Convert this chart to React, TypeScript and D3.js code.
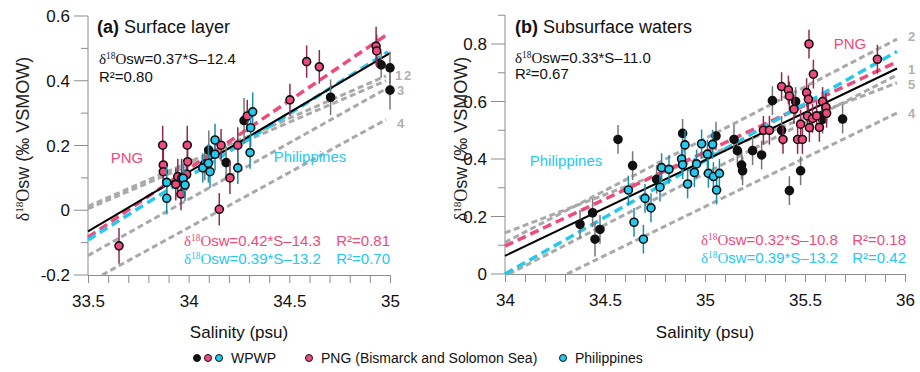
import React, { useRef, useEffect } from 'react';
import * as d3 from 'd3';

const SANS = '"Liberation Sans", Arial, sans-serif';
const SERIF = '"Liberation Serif", "Times New Roman", serif';

const PINK = '#ef4a7c';
const CYAN = '#25c8ef';
const PINK_ERR = '#8c2b52';
const CYAN_ERR = '#1d8eaa';
const GRAY = '#a9a9a9';

// ---- panel (a) surface layer ----
const aBlackS = [34.08, 34.1, 34.186, 34.275, 34.705, 34.956, 35.0, 35.0];
const aBlackD = [0.143, 0.186, 0.147, 0.277, 0.349, 0.449, 0.44, 0.371];
const aBlackE = [0.05, 0.06, 0.05, 0.07, 0.055, 0.04, 0.05, 0.06];

const aPngS = [33.654, 33.871, 33.874, 33.874, 33.936, 33.946, 33.962, 33.965, 33.99, 33.993, 33.995,
  34.152, 34.161, 34.205, 34.244, 34.291, 34.503, 34.586, 34.649, 34.931, 34.934];
const aPngD = [-0.11, 0.201, 0.14, 0.119, 0.08, 0.104, 0.05, 0.099, 0.111, 0.201, 0.15,
  0.003, 0.201, 0.1, 0.201, 0.291, 0.341, 0.459, 0.443, 0.507, 0.492];
const aPngE = [0.055, 0.06, 0.05, 0.05, 0.05, 0.055, 0.05, 0.06, 0.05, 0.06, 0.05,
  0.05, 0.05, 0.05, 0.055, 0.05, 0.05, 0.05, 0.052, 0.06, 0.05];

const aPhilS = [33.891, 33.891, 33.973, 33.982, 34.07, 34.098, 34.106, 34.131, 34.131, 34.244, 34.305, 34.308, 34.318];
const aPhilD = [0.086, 0.037, 0.099, 0.078, 0.131, 0.145, 0.119, 0.217, 0.173, 0.131, 0.178, 0.255, 0.304];
const aPhilE = [0.05, 0.05, 0.05, 0.05, 0.045, 0.06, 0.05, 0.05, 0.05, 0.05, 0.05, 0.06, 0.06];

// regression fits [slope, intercept, sMin, sMax] : wpwp, png, phil
const aFitBlack = [0.367, -12.36, 33.5, 35.0];
const aFitPng = [0.4216, -14.207, 33.5, 34.98];
const aFitPhil = [0.39, -13.157, 33.5, 34.99];

// gray reference lines
const aGrayLab = ['1', '2', '3', '4'];
const aGrayS0 = [33.5, 33.5, 33.5, 33.57];
const aGrayD0 = [0.012, 0.005, -0.14, -0.2];
const aGrayS1 = [34.98, 34.98, 34.98, 34.98];
const aGrayD1 = [0.415, 0.4, 0.375, 0.28];

// ---- panel (b) subsurface waters ----
const bBlackS = [34.375, 34.438, 34.45, 34.475, 34.565, 34.638, 34.758, 34.888, 35.055, 35.145, 35.162,
  35.183, 35.188, 35.238, 35.283, 35.337, 35.383, 35.422, 35.453, 35.478, 35.583, 35.588, 35.688];
const bBlackD = [0.173, 0.213, 0.121, 0.155, 0.468, 0.377, 0.329, 0.489, 0.48, 0.468, 0.429,
  0.379, 0.359, 0.429, 0.414, 0.603, 0.5, 0.29, 0.6, 0.359, 0.55, 0.538, 0.539];
const bBlackE = [0.05, 0.05, 0.06, 0.05, 0.05, 0.05, 0.05, 0.05, 0.05, 0.05, 0.05,
  0.05, 0.05, 0.05, 0.05, 0.05, 0.05, 0.05, 0.05, 0.05, 0.05, 0.05, 0.05];

const bPngS = [35.292, 35.322, 35.383, 35.39, 35.417, 35.422, 35.445, 35.463, 35.478, 35.487, 35.508, 35.512,
  35.517, 35.52, 35.522, 35.538, 35.542, 35.558, 35.572, 35.588, 35.605, 35.608, 35.862];
const bPngD = [0.5, 0.5, 0.652, 0.468, 0.64, 0.619, 0.573, 0.468, 0.521, 0.468, 0.631, 0.55,
  0.608, 0.8, 0.509, 0.541, 0.695, 0.55, 0.51, 0.6, 0.58, 0.559, 0.747];
const bPngE = [0.05, 0.05, 0.05, 0.05, 0.05, 0.05, 0.05, 0.05, 0.05, 0.05, 0.05, 0.05,
  0.05, 0.05, 0.05, 0.05, 0.05, 0.05, 0.05, 0.05, 0.05, 0.05, 0.05];

const bPhilS = [34.617, 34.645, 34.692, 34.7, 34.73, 34.775, 34.783, 34.82, 34.883, 34.888, 34.9,
  34.913, 34.947, 34.958, 34.983, 35.012, 35.017, 35.038, 35.042, 35.058, 35.072];
const bPhilD = [0.292, 0.18, 0.121, 0.263, 0.23, 0.302, 0.37, 0.364, 0.4, 0.38, 0.449,
  0.313, 0.353, 0.383, 0.453, 0.417, 0.35, 0.451, 0.339, 0.292, 0.35];
const bPhilE = [0.05, 0.05, 0.05, 0.05, 0.05, 0.05, 0.05, 0.05, 0.05, 0.05, 0.05,
  0.05, 0.05, 0.05, 0.05, 0.05, 0.05, 0.05, 0.05, 0.05, 0.05];

const bFitBlack = [0.3325, -11.242, 34, 35.96];
const bFitPng = [0.327, -11.021, 34, 35.96];
const bFitPhil = [0.395, -13.43, 34, 35.96];

const bGrayLab = ['2', '1', '5', '4'];
const bGrayS0 = [34, 34.02, 34, 34.31];
const bGrayD0 = [0.11, 0.0, 0.143, 0.0];
const bGrayS1 = [35.96, 35.96, 35.96, 35.96];
const bGrayD1 = [0.817, 0.692, 0.665, 0.56];

// ticks
const aXTicks = [33.5, 34, 34.5, 35];
const aYTicks = [-0.2, 0, 0.2, 0.4, 0.6];
const bXTicks = [34, 34.5, 35, 35.5, 36];
const bYTicks = [0, 0.2, 0.4, 0.6, 0.8];

const panels = [
  {
    title: 'Surface layer', tag: '(a)',
    xDom: [33.5, 35], xRange: [88, 390], yDom: [-0.2, 0.6], yRange: [275, 16],
    xTicks: aXTicks, yTicks: aYTicks, yTop: 0.6,
    black: [aBlackS, aBlackD, aBlackE], png: [aPngS, aPngD, aPngE], phil: [aPhilS, aPhilD, aPhilE],
    fits: [aFitBlack, aFitPng, aFitPhil],
    gray: [aGrayLab, aGrayS0, aGrayD0, aGrayS1, aGrayD1],
    grayLabPos: [[395, 80], [404, 80], [397, 95], [397, 128]],
    mainEq: ['sw=0.37*S\u201312.4', 'R\u00b2=0.80'], mainEqPos: [99, 64, 82],
    pngEq: ['sw=0.42*S\u201314.3', 'R\u00b2=0.81'], philEq: ['sw=0.39*S\u201313.2', 'R\u00b2=0.70'],
    eqPos: [184, 390, 246, 264],
    pngLab: [127, 163, 'middle'], philLab: [310, 162, 'middle'],
    yLabelX: 29, titleX: 97,
  },
  {
    title: 'Subsurface waters', tag: '(b)',
    xDom: [34, 36], xRange: [505, 905], yDom: [0, 0.9], yRange: [274, 15.25],
    xTicks: bXTicks, yTicks: bYTicks, yTop: 0.9,
    black: [bBlackS, bBlackD, bBlackE], png: [bPngS, bPngD, bPngE], phil: [bPhilS, bPhilD, bPhilE],
    fits: [bFitBlack, bFitPng, bFitPhil],
    gray: [bGrayLab, bGrayS0, bGrayD0, bGrayS1, bGrayD1],
    grayLabPos: [[908, 41], [908, 74], [908, 89], [908, 118]],
    mainEq: ['sw=0.33*S\u201311.0', 'R\u00b2=0.67'], mainEqPos: [515, 63, 79],
    pngEq: ['sw=0.32*S\u201310.8', 'R\u00b2=0.18'], philEq: ['sw=0.39*S\u201313.2', 'R\u00b2=0.42'],
    eqPos: [701, 906, 245, 263],
    pngLab: [850, 49, 'middle'], philLab: [566, 166, 'middle'],
    yLabelX: 467, titleX: 515,
  },
];

const addDelta = (t, size, rest) => {
  t.append('tspan').attr('font-family', SERIF).text('\u03b4');
  t.append('tspan').attr('font-family', SERIF).attr('font-size', size * 0.62).attr('dy', -size * 0.36).text('18');
  t.append('tspan').attr('font-family', SERIF).attr('dy', size * 0.36).text('O');
  t.append('tspan').text(rest);
};

const drawPanel = (svg, p) => {
  const x = d3.scaleLinear().domain(p.xDom).range(p.xRange);
  const y = d3.scaleLinear().domain(p.yDom).range(p.yRange);
  const g = svg.append('g');
  const axisColor = '#8c8c8c';

  // x axis
  const xMinor = d3.range(Math.round(p.xDom[0] * 10), Math.round(p.xDom[1] * 10) + 1).map(v => v / 10);
  const xa = g.append('g').attr('transform', `translate(0,${p.yRange[0]})`)
    .call(d3.axisBottom(x).tickValues(xMinor).tickSize(8).tickSizeOuter(0)
      .tickFormat(d => (p.xTicks.some(t => Math.abs(t - d) < 1e-6) ? String(d) : '')).tickPadding(12));
  xa.select('.domain').attr('stroke', axisColor);
  xa.selectAll('.tick line').attr('stroke', axisColor);
  xa.selectAll('.tick text').attr('font-family', SANS).attr('font-size', 17).attr('fill', '#111');

  // y axis
  const yMinor = d3.range(Math.round(p.yDom[0] * 10), Math.round(p.yTop * 10) + 1).map(v => v / 10);
  const ya = g.append('g').attr('transform', `translate(${p.xRange[0]},0)`);
  ya.append('line').attr('x1', 0).attr('x2', 0).attr('y1', y(p.yDom[0])).attr('y2', y(p.yTop)).attr('stroke', axisColor);
  yMinor.forEach(v => {
    const major = p.yTicks.some(t => Math.abs(t - v) < 1e-6);
    ya.append('line').attr('x1', major ? -14 : -7).attr('x2', 0).attr('y1', y(v)).attr('y2', y(v)).attr('stroke', axisColor);
    if (major) {
      ya.append('text').attr('x', -18).attr('y', y(v)).attr('dy', '0.36em').attr('text-anchor', 'end')
        .attr('font-family', SANS).attr('font-size', 17).attr('fill', '#111')
        .text(Math.abs(v) < 1e-9 ? '0' : String(v));
    }
  });

  // axis titles
  g.append('text').attr('x', (p.xRange[0] + p.xRange[1]) / 2).attr('y', 338).attr('text-anchor', 'middle')
    .attr('font-family', SANS).attr('font-size', 17).attr('fill', '#111').text('Salinity (psu)');
  const yl = g.append('text').attr('transform', `translate(${p.yLabelX},139) rotate(-90)`).attr('text-anchor', 'middle')
    .attr('font-family', SANS).attr('font-size', 18).attr('fill', '#222');
  addDelta(yl, 18, 'sw (\u2030 VSMOW)');

  // gray reference lines
  const [lab, s0, d0, s1, d1] = p.gray;
  lab.forEach((l, i) => {
    g.append('line').attr('x1', x(s0[i])).attr('y1', y(d0[i])).attr('x2', x(s1[i])).attr('y2', y(d1[i]))
      .attr('stroke', GRAY).attr('stroke-width', 3).attr('stroke-dasharray', '6,3.5');
  });
  lab.forEach((l, i) => {
    g.append('text').attr('x', p.grayLabPos[i][0]).attr('y', p.grayLabPos[i][1])
      .attr('font-family', SANS).attr('font-size', 13).attr('font-weight', 'bold').attr('fill', '#b0b0b0').text(l);
  });

  // regression lines
  const fitLine = (f, color, w, dash) => {
    const pts = [f[2], f[3]].map(s => [x(s), y(f[0] * s + f[1])]);
    g.append('path').attr('d', d3.line()(pts)).attr('stroke', color).attr('stroke-width', w)
      .attr('fill', 'none').attr('stroke-dasharray', dash);
  };
  fitLine(p.fits[1], PINK, 3.5, '9,5');
  fitLine(p.fits[2], CYAN, 3.5, '9,5');
  fitLine(p.fits[0], '#000', 2, null);

  // points with error bars
  const drawSeries = (ser, fill, errColor) => {
    const [S, D, E] = ser;
    S.forEach((s, i) => {
      g.append('line').attr('x1', x(s)).attr('x2', x(s)).attr('y1', y(D[i] - E[i])).attr('y2', y(D[i] + E[i]))
        .attr('stroke', errColor).attr('stroke-width', 1.5);
    });
    S.forEach((s, i) => {
      g.append('circle').attr('cx', x(s)).attr('cy', y(D[i])).attr('r', 4)
        .attr('fill', fill).attr('stroke', '#111').attr('stroke-width', 1.6);
    });
  };
  drawSeries(p.black, '#111', '#777');
  drawSeries(p.png, PINK, PINK_ERR);
  drawSeries(p.phil, CYAN, CYAN_ERR);

  // title
  const tt = g.append('text').attr('x', p.titleX).attr('y', 33).attr('font-family', SANS).attr('font-size', 18).attr('fill', '#111');
  tt.append('tspan').attr('font-weight', 'bold').text(p.tag);
  tt.append('tspan').text(' ' + p.title);

  // equations
  const me = g.append('text').attr('x', p.mainEqPos[0]).attr('y', p.mainEqPos[1])
    .attr('font-family', SANS).attr('font-size', 15).attr('fill', '#111');
  addDelta(me, 15, p.mainEq[0]);
  g.append('text').attr('x', p.mainEqPos[0]).attr('y', p.mainEqPos[2])
    .attr('font-family', SANS).attr('font-size', 15).attr('fill', '#111').text(p.mainEq[1]);

  [[p.pngEq, PINK, p.eqPos[2]], [p.philEq, CYAN, p.eqPos[3]]].forEach(([eq, c, yy]) => {
    const t = g.append('text').attr('x', p.eqPos[0]).attr('y', yy).attr('font-family', SANS).attr('font-size', 15).attr('fill', c);
    addDelta(t, 15, eq[0]);
    g.append('text').attr('x', p.eqPos[1]).attr('y', yy).attr('text-anchor', 'end')
      .attr('font-family', SANS).attr('font-size', 15).attr('fill', c).text(eq[1]);
  });

  g.append('text').attr('x', p.pngLab[0]).attr('y', p.pngLab[1]).attr('text-anchor', p.pngLab[2])
    .attr('font-family', SANS).attr('font-size', 15).attr('fill', PINK).text('PNG');
  g.append('text').attr('x', p.philLab[0]).attr('y', p.philLab[1]).attr('text-anchor', p.philLab[2])
    .attr('font-family', SANS).attr('font-size', 15).attr('fill', CYAN).text('Philippines');
};

const legendItems = [
  { colors: ['#111', PINK, CYAN], x: 197, label: 'WPWP' },
  { colors: [PINK], x: 309, label: 'PNG (Bismarck and Solomon Sea)' },
  { colors: [CYAN], x: 563, label: 'Philippines' },
];

const App: React.FC = () => {
  const svgRef = useRef<SVGSVGElement | null>(null);

  useEffect(() => {
    const svg = d3.select(svgRef.current);
    svg.selectAll('*').remove();
    panels.forEach(p => drawPanel(svg, p));

    const lg = svg.append('g');
    legendItems.forEach(it => {
      it.colors.forEach((c, i) => {
        lg.append('circle').attr('cx', it.x + i * 11).attr('cy', 358).attr('r', 3.5)
          .attr('fill', c).attr('stroke', '#111').attr('stroke-width', 1);
      });
      lg.append('text').attr('x', it.x + (it.colors.length - 1) * 11 + 12).attr('y', 363)
        .attr('font-family', SANS).attr('font-size', 14).attr('fill', '#111').text(it.label);
    });
  }, []);

  return (
    <svg ref={svgRef} width={920} height={372}
      style={{ position: 'absolute', left: 0, top: 0, background: '#fff' }} />
  );
};

export default App;
